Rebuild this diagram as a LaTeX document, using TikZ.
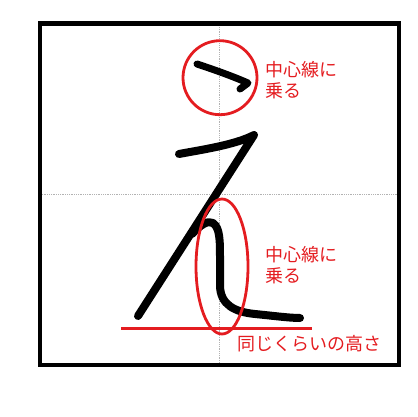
\documentclass[tikz,border=0pt]{standalone}
\usepackage{fontspec}
\newfontfamily\jpfont{Noto Sans CJK JP}
\definecolor{notered}{RGB}{228,28,32}
\begin{document}
\begin{tikzpicture}[x=1pt,y=-1pt,
  brush/.style={line width=8pt,line cap=round,line join=round},
  redring/.style={notered,line width=2.8pt},
  note/.style={notered,font=\jpfont\fontsize{18}{21.5}\selectfont,align=left,anchor=west,inner sep=0pt}]
\useasboundingbox (0,0) rectangle (417,417);

\draw[gray!60,line width=0.8pt,densely dotted] (219.5,23.5) -- (219.5,365);
\draw[gray!60,line width=0.8pt,densely dotted] (40,194) -- (399,194);
\draw[line width=4.5pt] (40,23.5) rectangle (399,365);

\draw[brush,line width=7pt] (197,64) .. controls (215,70) and (232,76) .. (248,83) -- (240,89);
\draw[brush] (179,154) .. controls (200,150) and (235,145) .. (254,135) -- (138,316);
\draw[brush] (192,234) .. controls (200,225) and (208,220) .. (213,223)
  .. controls (220,228) and (220,240) .. (220,260) -- (220,285)
  .. controls (220,305) and (235,312) .. (255,314)
  .. controls (275,316) and (290,318) .. (300,318);

\draw[redring] (220,77.7) circle (37pt);
\draw[redring] (222,266.5) ellipse [x radius=26pt,y radius=67.5pt];
\draw[notered,line width=3pt] (121,328) -- (312,328);

\node[note] (topnote) at (265,80) {中心線に\\乗る};
\node[note] (midnote) at (265,265) {中心線に\\乗る};
\node[note] (basenote) at (237,344) {同じくらいの高さ};
\end{tikzpicture}
\end{document}
